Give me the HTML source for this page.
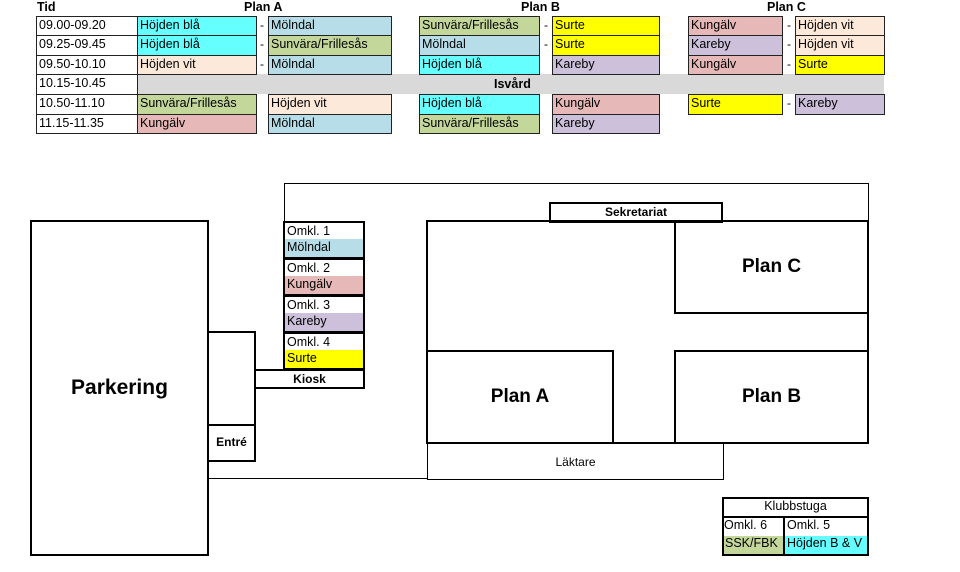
<!DOCTYPE html>
<html><head><meta charset="utf-8"><style>
*{margin:0;padding:0;box-sizing:border-box}
body{width:960px;height:572px;background:#fff;position:relative;overflow:hidden;font-family:"Liberation Sans",sans-serif;color:#000}
.a{position:absolute}
.c{position:absolute;border:1px solid #222;font-size:12.5px;line-height:17px;padding-left:2px;white-space:nowrap;overflow:hidden}
.t{position:absolute;border:1px solid #000}
.T{position:absolute;border:2px solid #000}
.h{position:absolute;font-weight:bold;font-size:12.5px}
.d{position:absolute;font-size:12px}
.cy{background:#66ffff}.lb{background:#b7dee8}.gr{background:#c4d79b}.pe{background:#fde9d9}.pk{background:#e6b8b7}.lv{background:#ccc0da}.ye{background:#ffff00}
.big{position:absolute;font-weight:bold;font-size:19px;text-align:center}
</style></head><body>
<div class="h" style="left:37px;top:0px">Tid</div>
<div class="h" style="left:244px;top:0px">Plan A</div>
<div class="h" style="left:521px;top:0px">Plan B</div>
<div class="h" style="left:767px;top:0px">Plan C</div>

<div class="a" style="left:137px;top:74px;width:747px;height:20px;background:#d9d9d9"></div>
<div class="h" style="left:494px;top:77px">Isvård</div>

<!-- Tid column -->
<div class="c" style="left:36px;top:16px;width:102px;height:20px">09.00-09.20</div>
<div class="c" style="left:36px;top:35px;width:102px;height:21px">09.25-09.45</div>
<div class="c" style="left:36px;top:55px;width:102px;height:20px">09.50-10.10</div>
<div class="c" style="left:36px;top:74px;width:102px;height:21px">10.15-10.45</div>
<div class="c" style="left:36px;top:94px;width:102px;height:21px">10.50-11.10</div>
<div class="c" style="left:36px;top:114px;width:102px;height:20px">11.15-11.35</div>

<!-- Plan A -->
<div class="c cy" style="left:137px;top:16px;width:120px;height:20px">Höjden blå</div>
<div class="c lb" style="left:268px;top:16px;width:124px;height:20px">Mölndal</div>
<div class="c cy" style="left:137px;top:35px;width:120px;height:21px">Höjden blå</div>
<div class="c gr" style="left:268px;top:35px;width:124px;height:21px">Sunvära/Frillesås</div>
<div class="c pe" style="left:137px;top:55px;width:120px;height:20px">Höjden vit</div>
<div class="c lb" style="left:268px;top:55px;width:124px;height:20px">Mölndal</div>
<div class="c gr" style="left:137px;top:94px;width:120px;height:21px">Sunvära/Frillesås</div>
<div class="c pe" style="left:268px;top:94px;width:124px;height:21px">Höjden vit</div>
<div class="c pk" style="left:137px;top:114px;width:120px;height:20px">Kungälv</div>
<div class="c lb" style="left:268px;top:114px;width:124px;height:20px">Mölndal</div>
<div class="d" style="left:260px;top:18px">-</div>
<div class="d" style="left:260px;top:37px">-</div>
<div class="d" style="left:260px;top:57px">-</div>

<!-- Plan B -->
<div class="c gr" style="left:419px;top:16px;width:121px;height:20px">Sunvära/Frillesås</div>
<div class="c ye" style="left:552px;top:16px;width:108px;height:20px">Surte</div>
<div class="c lb" style="left:419px;top:35px;width:121px;height:21px">Mölndal</div>
<div class="c ye" style="left:552px;top:35px;width:108px;height:21px">Surte</div>
<div class="c cy" style="left:419px;top:55px;width:121px;height:20px">Höjden blå</div>
<div class="c lv" style="left:552px;top:55px;width:108px;height:20px">Kareby</div>
<div class="c cy" style="left:419px;top:94px;width:121px;height:21px">Höjden blå</div>
<div class="c pk" style="left:552px;top:94px;width:108px;height:21px">Kungälv</div>
<div class="c gr" style="left:419px;top:114px;width:121px;height:20px">Sunvära/Frillesås</div>
<div class="c lv" style="left:552px;top:114px;width:108px;height:20px">Kareby</div>
<div class="d" style="left:544px;top:18px">-</div>
<div class="d" style="left:544px;top:37px">-</div>

<!-- Plan C -->
<div class="c pk" style="left:688px;top:16px;width:95px;height:20px">Kungälv</div>
<div class="c pe" style="left:795px;top:16px;width:90px;height:20px">Höjden vit</div>
<div class="c lv" style="left:688px;top:35px;width:95px;height:21px">Kareby</div>
<div class="c pe" style="left:795px;top:35px;width:90px;height:21px">Höjden vit</div>
<div class="c pk" style="left:688px;top:55px;width:95px;height:20px">Kungälv</div>
<div class="c ye" style="left:795px;top:55px;width:90px;height:20px">Surte</div>
<div class="c ye" style="left:688px;top:94px;width:95px;height:21px">Surte</div>
<div class="c lv" style="left:795px;top:94px;width:90px;height:21px">Kareby</div>
<div class="d" style="left:787px;top:18px">-</div>
<div class="d" style="left:787px;top:37px">-</div>
<div class="d" style="left:787px;top:57px">-</div>
<div class="d" style="left:787px;top:96px">-</div>

<!-- Map outlines -->
<div class="t" style="left:284px;top:183px;width:585px;height:40px;border-bottom:none"></div>
<div class="a" style="left:208px;top:478px;width:220px;height:1px;background:#000"></div>
<div class="t" style="left:427px;top:442px;width:297px;height:38px;border-top:none"></div>
<div class="a" style="left:427px;top:455px;width:297px;text-align:center;font-size:12px">Läktare</div>

<div class="T" style="left:30px;top:220px;width:179px;height:336px"></div>
<div class="big" style="left:30px;top:376px;width:179px;font-size:21px">Parkering</div>
<div class="T" style="left:207px;top:331px;width:49px;height:131px"></div>
<div class="T" style="left:207px;top:424px;width:49px;height:38px"></div>
<div class="h" style="left:207px;top:435px;width:49px;text-align:center;font-size:12px">Entré</div>
<div class="T" style="left:254px;top:369px;width:111px;height:20px"></div>
<div class="h" style="left:254px;top:372px;width:111px;text-align:center;font-size:12px">Kiosk</div>

<!-- Omkl column -->
<div class="c" style="left:283px;top:221px;width:82px;height:19px;border:2px solid #000;border-bottom:none">Omkl. 1</div>
<div class="c lb" style="left:283px;top:239px;width:82px;height:20px;border:2px solid #000;border-top:none">Mölndal</div>
<div class="c" style="left:283px;top:258px;width:82px;height:19px;border:2px solid #000;border-bottom:none">Omkl. 2</div>
<div class="c pk" style="left:283px;top:276px;width:82px;height:20px;border:2px solid #000;border-top:none">Kungälv</div>
<div class="c" style="left:283px;top:295px;width:82px;height:19px;border:2px solid #000;border-bottom:none">Omkl. 3</div>
<div class="c lv" style="left:283px;top:313px;width:82px;height:20px;border:2px solid #000;border-top:none">Kareby</div>
<div class="c" style="left:283px;top:332px;width:82px;height:19px;border:2px solid #000;border-bottom:none">Omkl. 4</div>
<div class="c ye" style="left:283px;top:350px;width:82px;height:20px;border:2px solid #000;border-top:none">Surte</div>

<!-- Building -->
<div class="T" style="left:549px;top:202px;width:174px;height:21px"></div>
<div class="h" style="left:549px;top:205px;width:174px;text-align:center;font-size:12px">Sekretariat</div>
<div class="T" style="left:426px;top:220px;width:443px;height:224px"></div>
<div class="T" style="left:674px;top:220px;width:195px;height:94px"></div>
<div class="big" style="left:674px;top:256px;width:195px">Plan C</div>
<div class="T" style="left:426px;top:350px;width:188px;height:94px"></div>
<div class="big" style="left:426px;top:386px;width:188px">Plan A</div>
<div class="T" style="left:674px;top:350px;width:195px;height:94px"></div>
<div class="big" style="left:674px;top:386px;width:195px">Plan B</div>

<!-- Klubbstuga -->
<div class="T" style="left:722px;top:497px;width:147px;height:21px"></div>
<div class="a" style="left:722px;top:499px;width:147px;text-align:center;font-size:12.5px">Klubbstuga</div>
<div class="T" style="left:722px;top:516px;width:147px;height:40px"></div>
<div class="a" style="left:783px;top:517px;width:2px;height:38px;background:#000"></div>
<div class="a" style="left:724px;top:518px;font-size:12.5px">Omkl. 6</div>
<div class="a" style="left:787px;top:518px;font-size:12.5px">Omkl. 5</div>
<div class="a gr" style="left:724px;top:536px;width:59px;height:18px;font-size:12.5px;padding-left:1px">SSK/FBK</div>
<div class="a cy" style="left:785px;top:536px;width:82px;height:18px;font-size:12.5px;padding-left:2px">Höjden B &amp; V</div>
</body></html>
